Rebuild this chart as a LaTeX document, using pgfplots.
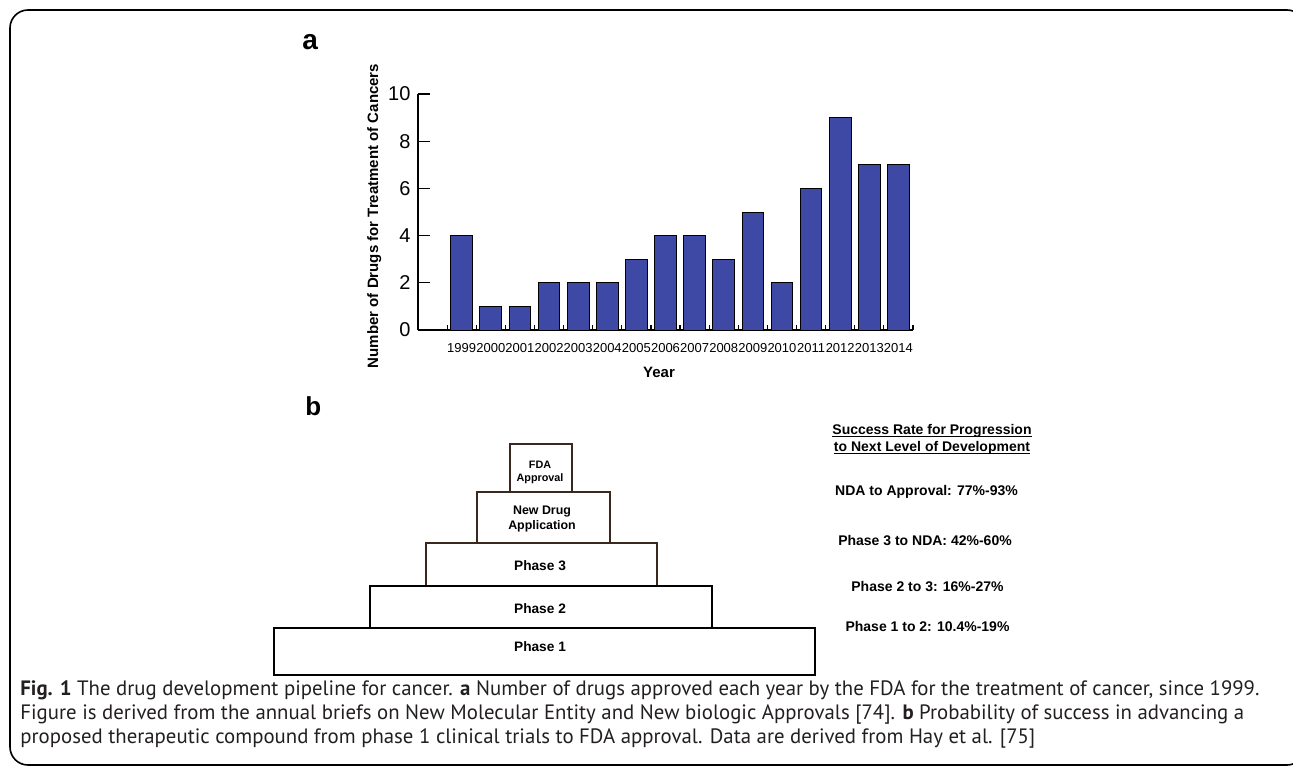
\documentclass[border=0pt]{standalone}
\usepackage{fontspec}
\setmainfont{Liberation Sans}
\newfontfamily\capfont{PT Sans}
\usepackage{pgfplots}
\pgfplotsset{compat=1.18}
\definecolor{barblue}{RGB}{62,72,165}
\definecolor{boxbrown}{RGB}{58,40,30}
\definecolor{captext}{RGB}{35,31,32}

\begin{document}
\begin{tikzpicture}
\path[use as bounding box] (0,0) rectangle (646.5pt,-385.5pt);
% the drawing is laid out in pixels of the reference (1px = 0.5pt, y down)
\begin{scope}[x=0.5pt,y=-0.5pt]
\clip (0,0) rectangle (1293,771);
\draw[line width=0.8pt, rounded corners=9pt] (10,10) rectangle (1305,765);

% ---- panel a label
\node[font=\fontsize{14}{16}\selectfont\bfseries, anchor=base west, inner sep=0pt] at (302,49) {a};

% ---- panel b
\node[font=\fontsize{13}{15}\selectfont\bfseries, anchor=base west, inner sep=0pt] at (305,415) {b};

\draw[line width=1.25pt, boxbrown] (510,444) rectangle (572,492);
\draw[line width=1.25pt, boxbrown] (477,492) rectangle (610,543);
\draw[line width=1.25pt, boxbrown] (426,543) rectangle (657,586);
\draw[line width=1.25pt, black] (370,586) rectangle (712,628);
\draw[line width=1.25pt, black] (274,628) rectangle (815,675);

\begin{scope}[every node/.style={anchor=base, inner sep=0pt}]
\node[font=\fontsize{5.4}{6.5}\selectfont\bfseries] at (540,468) {FDA};
\node[font=\fontsize{5.4}{6.5}\selectfont\bfseries] at (540,481.5) {Approval};
\node[font=\fontsize{6.2}{7.5}\selectfont\bfseries] at (542,514.5) {New Drug};
\node[font=\fontsize{6.2}{7.5}\selectfont\bfseries] at (542,529.5) {Application};
\node[font=\fontsize{6.85}{8}\selectfont\bfseries] at (540,570) {Phase 3};
\node[font=\fontsize{6.85}{8}\selectfont\bfseries] at (540,613.5) {Phase 2};
\node[font=\fontsize{6.85}{8}\selectfont\bfseries] at (540,651) {Phase 1};

\node[font=\fontsize{7}{8}\selectfont\bfseries] (h1) at (932,434.5) {Success Rate for Progression};
\node[font=\fontsize{7}{8}\selectfont\bfseries] (h2) at (932,451.5) {to Next Level of Development};
\node[font=\fontsize{7}{8}\selectfont\bfseries] at (926.5,495) {NDA to Approval: 77\%-93\%};
\node[font=\fontsize{7}{8}\selectfont\bfseries] at (925,545) {Phase 3 to NDA: 42\%-60\%};
\node[font=\fontsize{7}{8}\selectfont\bfseries] at (927.5,591) {Phase 2 to 3: 16\%-27\%};
\node[font=\fontsize{7}{8}\selectfont\bfseries] at (927.5,631) {Phase 1 to 2: 10.4\%-19\%};
\end{scope}
\draw[line width=0.5pt] ([yshift=-1pt]h1.base west) -- ([yshift=-1pt]h1.base east);
\draw[line width=0.5pt] ([yshift=-1pt]h2.base west) -- ([yshift=-1pt]h2.base east);

% ---- caption
\begin{scope}[every node/.style={anchor=base west, inner sep=0pt, text=captext,
    font=\capfont\fontsize{10.4}{12}\selectfont}]
\node at (20,695) {\textbf{Fig. 1} The drug development pipeline for cancer. \textbf{a} Number of drugs approved each year by the FDA for the treatment of cancer, since 1999.};
\node at (20,719) {Figure is derived from the annual briefs on New Molecular Entity and New biologic Approvals [74]. \textbf{b} Probability of success in advancing a};
\node at (20,743) {proposed therapeutic compound from phase 1 clinical trials to FDA approval. Data are derived from Hay et al. [75]};
\end{scope}
\end{scope}

% ---- panel a: bar chart (axis origin at pixel (418,330))
\begin{axis}[
    at={(209pt,-165pt)}, anchor=south west,
    scale only axis, width=247.5pt, height=118pt,
    xmin=-1.5, xmax=15.5, ymin=0, ymax=10,
    axis x line*=bottom, axis y line*=left,
    axis line style={line width=0.6pt, black},
    ytick={0,2,...,10},
    xtick={0,...,15},
    xticklabels={1999,2000,2001,2002,2003,2004,2005,2006,2007,2008,2009,2010,2011,2012,2013,2014},
    minor xtick={-0.5,0.5,...,15.5},
    tick align=inside,
    major tick length=6pt, minor tick length=2.5pt,
    major x tick style={draw=none},
    tick style={line width=0.6pt, black},
    /pgf/number format/assume math mode=true,
    yticklabel style={font=\fontsize{10}{12}\selectfont, inner sep=0pt},
    xticklabel style={font=\fontsize{6.5}{8}\selectfont, inner sep=0pt},
    yticklabel shift=3.6pt,
    xticklabel shift=6.5pt,
    xlabel={Year},
    xlabel style={at={(axis description cs:0.487,0)}, anchor=base, yshift=-23.5pt,
        inner sep=0pt, font=\fontsize{7.5}{9}\selectfont\bfseries},
    ylabel={Number of Drugs for Treatment of Cancers},
    ylabel style={at={(axis description cs:-0.0808,0.483)}, anchor=base,
        inner sep=0pt, font=\fontsize{7.5}{9}\selectfont\bfseries},
]
\addplot[ybar, bar width=10.85pt, fill=barblue, draw=black, line width=0.5pt] coordinates {
    (0,4) (1,1) (2,1) (3,2) (4,2) (5,2) (6,3) (7,4)
    (8,4) (9,3) (10,5) (11,2) (12,6) (13,9) (14,7) (15,7)
};
\end{axis}
\end{tikzpicture}
\end{document}
